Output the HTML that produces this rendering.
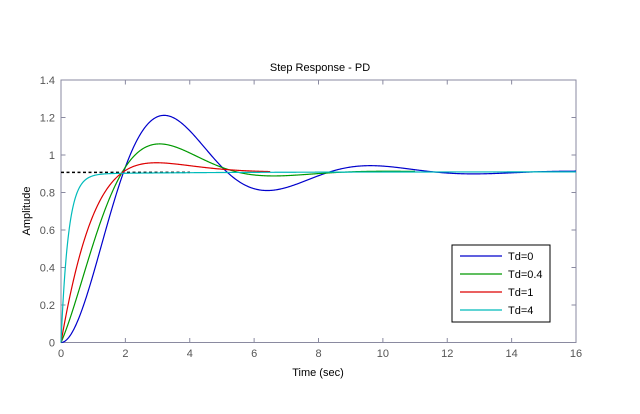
<!DOCTYPE html>
<html><head><meta charset="utf-8"><style>
html,body{margin:0;padding:0;background:#fff;}
svg{display:block;font-family:"Liberation Sans",Arial,sans-serif;}
</style></head><body>
<svg id="s" width="640" height="414" viewBox="0 0 640 414">
<rect x="61" y="80" width="515" height="262.5" fill="#fff" stroke="#8a8aa0" stroke-width="1"/>
<g id="ticks" stroke="#8a8aa0" stroke-width="1"></g>
<g id="labels" font-size="11" fill="#555"></g>
<line x1="61" y1="172.4" x2="190" y2="172.4" stroke="#000" stroke-width="1.5" stroke-dasharray="3,2.5"/>
<g id="curves" fill="none" stroke-width="1.2"></g>
<text x="320" y="71" font-size="11" text-anchor="middle" fill="#000">Step Response  - PD</text>
<text x="318" y="376" font-size="11" text-anchor="middle" fill="#000">Time (sec)</text>
<text x="30" y="211" font-size="11" text-anchor="middle" fill="#000" transform="rotate(-90 30 211)">Amplitude</text>
<rect x="452" y="245" width="98" height="77" fill="#fff" stroke="#000" stroke-width="1"/>
<line x1="460" y1="256" x2="502" y2="256" stroke="#0000cc" stroke-width="1.3"/>
<line x1="460" y1="274" x2="502" y2="274" stroke="#009900" stroke-width="1.3"/>
<line x1="460" y1="292" x2="502" y2="292" stroke="#dd0000" stroke-width="1.3"/>
<line x1="460" y1="310" x2="502" y2="310" stroke="#00bbbb" stroke-width="1.3"/>
<g font-size="11" fill="#000">
<text x="508" y="260">Td=0</text>
<text x="508" y="278">Td=0.4</text>
<text x="508" y="296">Td=1</text>
<text x="508" y="314">Td=4</text>
</g>
</svg>
<script>
var NS="http://www.w3.org/2000/svg";
function X(t){return 61+t*515/16;}
function Y(v){return 342.5-v*262.5/1.4;}
var tk=document.getElementById("ticks"),lb=document.getElementById("labels");
function el(p,n,a,txt){var e=document.createElementNS(NS,n);for(var k in a)e.setAttribute(k,a[k]);if(txt!=null)e.textContent=txt;p.appendChild(e);}
for(var i=0;i<=8;i++){var x=X(i*2);
 el(tk,"line",{x1:x,y1:342.5,x2:x,y2:338});el(tk,"line",{x1:x,y1:80,x2:x,y2:84.5});
 el(lb,"text",{x:x,y:357,"text-anchor":"middle"},String(i*2));}
for(var j=0;j<=7;j++){var v=j*0.2,y=Y(v);
 el(tk,"line",{x1:61,y1:y,x2:65.5,y2:y});el(tk,"line",{x1:576,y1:y,x2:571.5,y2:y});
 var s=(j==0)?"0":(j==5?"1":v.toFixed(1));
 el(lb,"text",{x:55,y:y+4,"text-anchor":"end"},s);}
var a=0.69,b=0.097,Kp=0.983;
function sim(Td,tend){
 var dt=0.001,x1=0,x2=0,d="",t=0,step=0;
 var A1=a+Kp*Td,A0=b+Kp;
 // y = Kp*(x + Td*x'), x'' = u - A1 x' - A0 x
 while(t<=tend+1e-9){
  if(step%20==0){var yv=Kp*(x1+Td*x2);d+=(d?"L":"M")+X(t).toFixed(2)+","+Y(yv).toFixed(2);}
  var acc=1-A1*x2-A0*x1;x2+=acc*dt;x1+=x2*dt;t+=dt;step++;}
 return d;}
var cv=document.getElementById("curves");
el(cv,"path",{d:sim(0,16),stroke:"#0000cc"});
el(cv,"path",{d:sim(0.4,11),stroke:"#009900"});
el(cv,"path",{d:sim(1,6.5),stroke:"#dd0000"});
el(cv,"path",{d:sim(4,16),stroke:"#00bbbb"});
</script>
</body></html>
